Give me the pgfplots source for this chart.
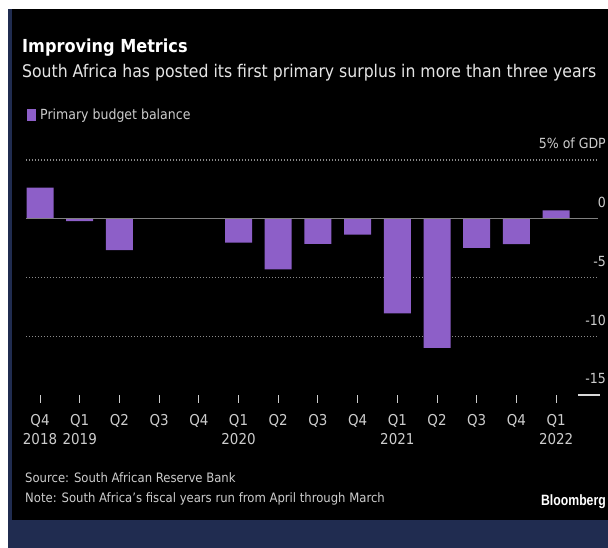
\documentclass[border=0pt]{standalone}
\usepackage{pgfplots}
\pgfplotsset{compat=1.18}
\usepackage{fontspec}
\setmainfont{DejaVu Sans Condensed}
\newfontfamily\bbfont[FakeStretch=0.82]{Liberation Sans}
\definecolor{barc}{RGB}{141,95,200}
\definecolor{navy}{RGB}{32,44,80}
\definecolor{txt}{RGB}{205,205,205}
\definecolor{gridc}{RGB}{140,140,140}
\begin{document}
\begin{tikzpicture}[x=1bp,y=1bp]
\path[use as bounding box] (0,0) rectangle (608,548);
\fill[white] (0,0) rectangle (608,548);
\fill[black] (12,28) rectangle (608,539);
\fill[navy] (8,28) rectangle (12,539);
\fill[navy] (8,0) rectangle (608,28);
\node[anchor=base west, inner sep=0pt, text=white, font=\bfseries\fontsize{18}{20}\selectfont] at (22,495) {Improving Metrics};
\node[anchor=base west, inner sep=0pt, text=white!90!black, font=\fontsize{17.5}{19}\selectfont] at (22,470) {South Africa has posted its first primary surplus in more than three years};
\node[anchor=base west, inner sep=0pt, text=txt, font=\fontsize{13}{15}\selectfont] at (25,65) {Source: South African Reserve Bank};
\node[anchor=base west, inner sep=0pt, text=txt, font=\fontsize{13}{15}\selectfont] at (25,45) {Note: South Africa's fiscal years run from April through March};
\node[anchor=base east, inner sep=0pt, text=white, font=\bbfont\bfseries\fontsize{15}{17}\selectfont] at (606,42) {Bloomberg};
\begin{axis}[
  at={(26bp,153bp)}, anchor=south west,
  scale only axis, width=572bp, height=235bp,
  xmin=-0.353, xmax=14.055, ymin=-15, ymax=5,
  axis line style={draw=none},
  ybar, bar width=27bp,
  xtick={0,...,13},
  xticklabels={{Q4\\2018},{Q1\\2019},Q2,Q3,Q4,{Q1\\2020},Q2,Q3,Q4,{Q1\\2021},Q2,Q3,Q4,{Q1\\2022}},
  xtick pos=lower,
  tick align=outside,
  major tick length=8bp,
  xtick style={draw=txt, line width=1bp},
  xticklabel style={align=center, anchor=north, inner sep=0pt, text=txt, font=\fontsize{15}{19}\selectfont, yshift=-11bp},
  ytick={-10,-5,0,5},
  yticklabels={-10,-5,0,5\% of GDP},
  extra y ticks={-15},
  extra y tick labels={-15},
  extra y tick style={grid=none},
  ytick style={draw=none},
  ytick pos=right, yticklabel pos=right,
  yticklabel style={anchor=base east, inner sep=0pt, text=txt, font=\fontsize{14}{16}\selectfont, xshift=0bp, yshift=11bp},
  ymajorgrids,
  grid style={draw=gridc, line width=1.2bp, dash pattern=on 1bp off 2bp},
  legend style={draw=none, fill=none, at={(rel axis cs:0,1)}, anchor=west, xshift=1bp, yshift=45bp, inner sep=0pt, font=\fontsize{14}{16}\selectfont, text=txt, cells={anchor=west}},
  legend image code/.code={\fill[barc] (0bp,-6bp) rectangle (9bp,6bp); \path (11bp,0bp);},
  clip=false,
]
\addplot[fill=barc, draw=none] coordinates {
(0,2.64) (1,-0.2) (2,-2.67) (3,0) (4,0) (5,-2.04) (6,-4.31) (7,-2.13)
(8,-1.36) (9,-8.06) (10,-10.98) (11,-2.48) (12,-2.15) (13,0.71)};
\addlegendentry{Primary budget balance}
\draw[gray, line width=1.5bp] (axis cs:-0.353,0) -- (axis cs:14.055,0);
\draw[white!85!black, line width=1.8bp] (axis cs:13.55,-15) -- (axis cs:14.1,-15);
\end{axis}
\end{tikzpicture}
\end{document}
